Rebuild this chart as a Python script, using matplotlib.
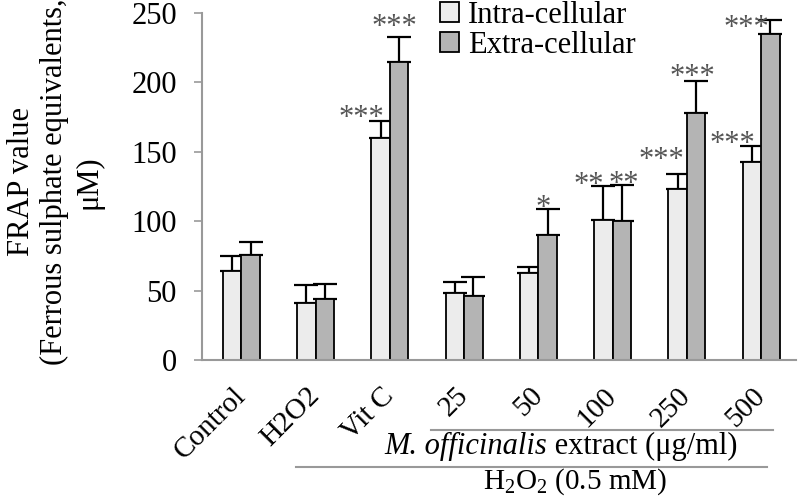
import numpy as np
import matplotlib
matplotlib.use("Agg")
import matplotlib.pyplot as plt
from matplotlib.transforms import blended_transform_factory

plt.rcParams['font.family'] = ['Liberation Serif', 'DejaVu Serif']
plt.rcParams['mathtext.fontset'] = 'custom'
plt.rcParams['mathtext.rm'] = 'Liberation Serif'
plt.rcParams['mathtext.it'] = 'Liberation Serif:italic'

# ---- data ----
categories = ["Control", "H2O2", "Vit C", "25", "50", "100", "250", "500"]
intra = [64, 41, 160, 48, 63, 101, 123, 143]
intra_err = [11, 13, 12, 8, 4, 24, 11, 11]
extra = [76, 44, 215, 46, 90, 100, 178, 235]
extra_err = [9, 11, 18, 14, 19, 26, 23, 10]
series_labels = ["Intra-cellular", "Extra-cellular"]
yticks = [0, 50, 100, 150, 200, 250]
# significance marks: (group index, series 0=intra 1=extra, label)
stars = [(2, 0, "***"), (2, 1, "***"), (4, 1, "*"), (5, 0, "**"), (5, 1, "**"),
         (6, 0, "***"), (6, 1, "***"), (7, 0, "***"), (7, 1, "***")]
# pixel offsets (dx, gap above cap) for the marks - styling
star_offsets = [(-19, 10), (-5, 17), (-4, 8), (-15, 9), (2, 8),
                (-16, 21), (-4, 11), (-19, 9), (-24, -1)]

W, H = 798, 501
fig = plt.figure(figsize=(W / 100, H / 100), dpi=100)
ax = fig.add_axes([202 / W, 1 - 360 / H, 594 / W, 347 / H])

x = np.arange(len(categories))
bw = 0.25
c_in, c_ex = '#ececec', '#b4b4b4'
ax.bar(x - bw / 2, intra, bw, color=c_in, edgecolor='black', linewidth=1.3,
       label=series_labels[0], zorder=2)
ax.bar(x + bw / 2, extra, bw, color=c_ex, edgecolor='black', linewidth=1.3,
       label=series_labels[1], zorder=2)
ax.errorbar(x - bw / 2, intra, yerr=[np.zeros(len(x)), intra_err], fmt='none',
            ecolor='black', elinewidth=1.6, capsize=8.5, capthick=1.6, zorder=1, clip_on=False)
ax.errorbar(x + bw / 2, extra, yerr=[np.zeros(len(x)), extra_err], fmt='none',
            ecolor='black', elinewidth=1.6, capsize=8.5, capthick=1.6, zorder=1, clip_on=False)

for (g, s, lab), (dx, gap) in zip(stars, star_offsets):
    if s == 0:
        xx, top = x[g] - bw / 2, intra[g] + intra_err[g]
    else:
        xx, top = x[g] + bw / 2, extra[g] + extra_err[g]
    ax.annotate(lab, xy=(xx, top), xytext=(dx * 0.72, (gap - 15) * 0.72),
                textcoords='offset points', ha='center', va='baseline',
                fontsize=22, color='#555555', annotation_clip=False)

ax.set_xlim(-0.53, 7.47)
ax.set_ylim(0, 250)
ax.set_yticks(yticks)
ax.set_yticklabels([str(v) for v in yticks], fontsize=22)
ax.tick_params(axis='y', length=6, width=1.2, color='#999999', pad=12)
ax.set_xticks(x)
ax.set_xticklabels(categories, fontsize=21, rotation=45, ha='right', va='center',
                   rotation_mode='anchor')
ax.tick_params(axis='x', length=0, pad=23)
for sp in ['top', 'right']:
    ax.spines[sp].set_visible(False)
for sp in ['left', 'bottom']:
    ax.spines[sp].set_color('#999999')
    ax.spines[sp].set_linewidth(1.5)

fig.text(55 / W, 1 - 182 / H, "FRAP value\n(Ferrous sulphate equivalents,\n\u03bcM)",
         rotation=90, ha='center', va='center', multialignment='center',
         fontsize=22, linespacing=1.22)

trans = blended_transform_factory(ax.transData, ax.transAxes)
ax.plot([2.55, 7.16], [-0.2017, -0.2017], transform=trans, color='#999999', lw=1.5, clip_on=False)
ax.plot([0.73, 7.08], [-0.308, -0.308], transform=trans, color='#999999', lw=1.5, clip_on=False)

# two-part label: italic species name + upright remainder
renderer = fig.canvas.get_renderer()
t_it = ax.text(0, -0.25, "M. officinalis", transform=trans, ha='left', va='center',
               fontsize=22, fontstyle='italic')
t_rm = ax.text(0, -0.25, " extract (\u03bcg/ml)", transform=trans, ha='left', va='center',
               fontsize=22)
w_it = t_it.get_window_extent(renderer).width
w_rm = t_rm.get_window_extent(renderer).width
center_px = ax.transData.transform((4.30, 0))[0]
left_px = center_px - (w_it + w_rm) / 2
x0 = ax.transData.inverted().transform((left_px, 0))[0]
x1 = ax.transData.inverted().transform((left_px + w_it, 0))[0]
t_it.set_x(x0)
t_rm.set_x(x1)

ax.text(4.49, -0.352, r"H$_2$O$_2$ (0.5 mM)", transform=trans, ha='center', va='center', fontsize=21)

ax.legend(loc='upper left', bbox_to_anchor=(440 / W, 1 - 1 / H),
          bbox_transform=fig.transFigure, frameon=False, fontsize=22,
          handlelength=0.62, handleheight=0.62, handletextpad=0.3,
          labelspacing=0.02, borderpad=0, borderaxespad=0)

fig.savefig("out.png", dpi=100)
